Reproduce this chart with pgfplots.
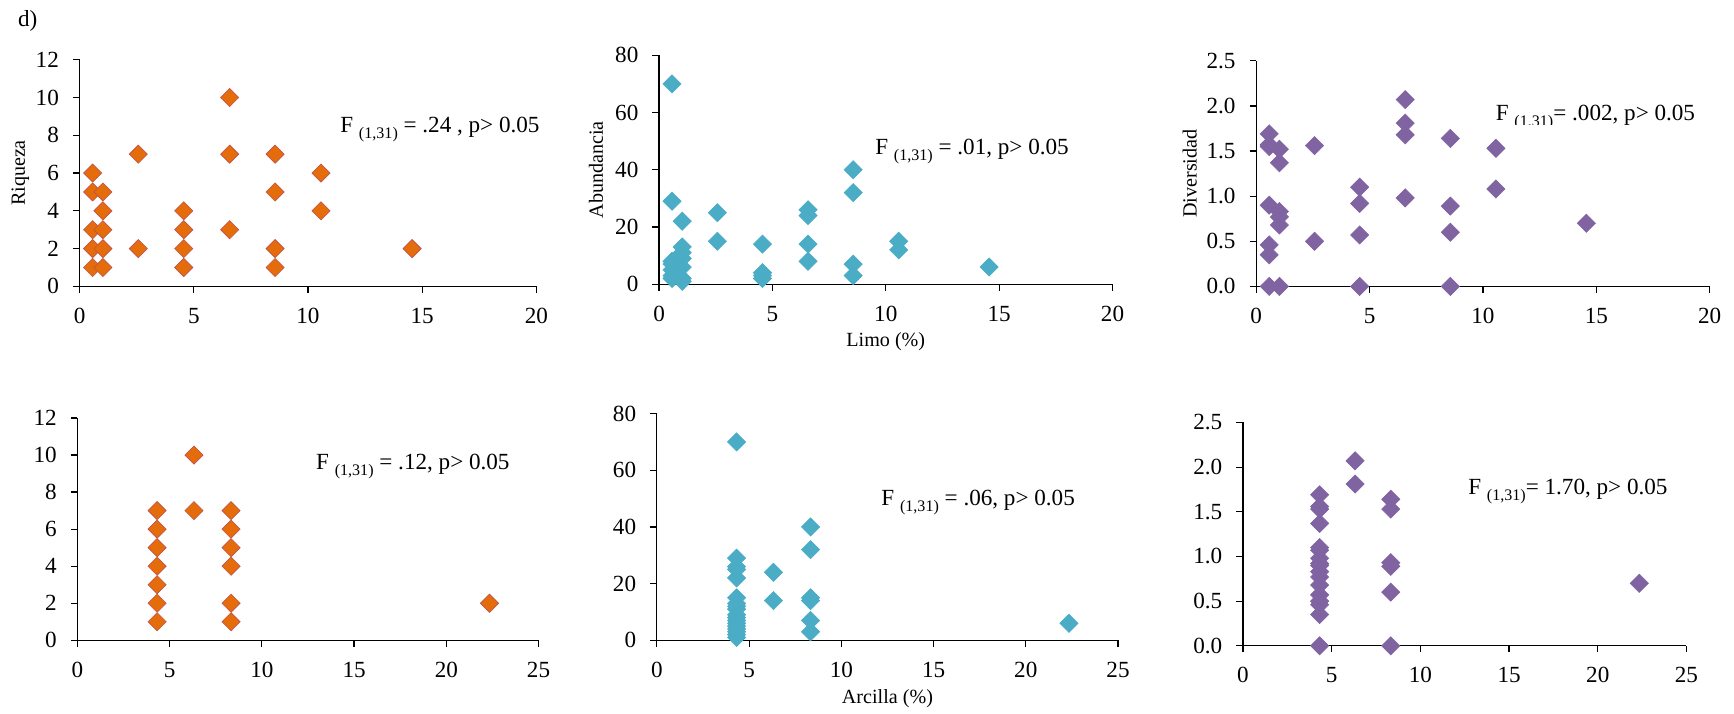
\documentclass[border=0pt]{standalone}
\usepackage{fontspec}
\setmainfont{Liberation Serif}
\usepackage{pgfplots}
\pgfplotsset{compat=1.18}

\definecolor{naranja}{HTML}{E46C0A}
\definecolor{naranjaborde}{HTML}{C0504D}
\definecolor{turquesa}{HTML}{4BACC6}
\definecolor{morado}{HTML}{8064A2}

% one layout pixel = 0.55pt
\newcommand{\px}[1]{\fpeval{(#1)*0.55}pt}

\tikzset{
  nota/.style={font=\fontsize{11.5}{13}\selectfont, anchor=base west, inner sep=0pt},
}
\pgfplotsset{
  panel/.style={
    scale only axis, anchor=south west,
    axis x line=bottom, axis y line=left,
    axis line style={-, black, line width=0.6pt},
    every tick/.style={black, line width=0.6pt},
    tick align=outside, major tick length=3.3pt,
    minor tick num=0,
    every tick label/.append style={font=\fontsize{11.5}{13}\selectfont, black},
    xticklabel style={yshift=-4pt},
    yticklabel style={xshift=-3.5pt},
    /pgf/number format/assume math mode=true,
    label style={font=\fontsize{12}{14}\selectfont},
    clip=false, xmin=0, ymin=0,
    every axis y label/.style={at={(axis description cs:#1,0.5)}, rotate=90, anchor=center},
  },
  panel/.default=-0.13,
  marcas/.style n args={2}{only marks, mark=square*, mark size=3.2pt,
    mark options={rotate=45, fill=#1, draw=#2, line width=0.3pt}},
}
\newcommand{\Fsub}{\raisebox{-0.55ex}{\fontsize{8}{9}\selectfont (1,31)}}

\begin{document}
\begin{tikzpicture}
\useasboundingbox (0,0) rectangle (862.4pt,354.75pt);

\node[nota] at (8.8pt,341.5pt) {d)};

% ---------- Limo (%) ----------
\begin{axis}[panel=-0.130, at={(\px{72},\px{645-259})},
  width=\px{413}, height=\px{205},
  xmax=20, ymax=12, xtick={0,5,...,20}, ytick={0,2,...,12},
  ylabel={Riqueza}]
\addplot[marcas={naranja}{naranjaborde}] table {
x y
0.57 6
0.57 5
0.57 3
0.57 2
0.57 1
1.02 5
1.02 4
1.02 3
1.02 2
1.02 1
2.57 7
2.57 2
4.56 4
4.56 3
4.56 2
4.56 1
6.57 10
6.57 7
6.57 3
8.56 7
8.56 5
8.56 2
8.56 1
10.57 6
10.57 4
14.56 2
};
\node[nota] at (axis cs:11.4,8.15) {F \Fsub\ = .24 , p> 0.05};
\end{axis}

\begin{axis}[panel=-0.139, at={(\px{596},\px{645-257})},
  width=\px{410}, height=\px{207},
  xmax=20, ymax=80, xtick={0,5,...,20}, ytick={0,20,...,80},
  ylabel={Abundancia}, xlabel={Limo (\%)},
  every axis x label/.style={at={(axis description cs:0.5,-0.25)}, anchor=center}]
\addplot[marcas={turquesa}{turquesa}] table {
x y
0.57 70
0.57 29
0.57 8
0.57 7
0.57 5
0.57 3
0.57 2
1.02 22
1.02 13
1.02 11
1.02 9
1.02 6
1.02 2
1.02 1
2.57 25
2.57 15
4.56 14
4.56 4
4.56 3
4.56 2
6.57 26
6.57 24
6.57 14
6.57 8
8.56 40
8.56 32
8.56 7
8.56 3
10.57 15
10.57 12
14.56 6
};
\node[nota] at (axis cs:9.52,45.3) {F \Fsub\ = .01, p> 0.05};
\end{axis}

\begin{axis}[panel=-0.147, at={(\px{1136},\px{645-259})},
  width=\px{410}, height=\px{204},
  xmax=20, ymax=2.5, xtick={0,5,...,20}, ytick={0,0.5,...,2.5},
  yticklabel style={/pgf/number format/.cd, fixed, fixed zerofill, precision=1},
  ylabel={Diversidad}]
\addplot[marcas={morado}{morado}] table {
x y
0.57 1.69
0.57 1.57
0.57 1.55
0.57 0.90
0.57 0.46
0.57 0.35
0.57 0
1.02 1.52
1.02 1.37
1.02 0.83
1.02 0.77
1.02 0.68
1.02 0
2.57 1.56
2.57 0.50
4.56 1.10
4.56 0.92
4.56 0.57
4.56 0
6.57 2.07
6.57 1.81
6.57 1.68
6.57 0.98
8.56 1.64
8.56 0.89
8.56 0.60
8.56 0
10.57 1.53
10.57 1.08
14.56 0.70
};
\begin{scope}
\clip (axis cs:10,1.789) rectangle (axis cs:21,2.3);
\node[nota] at (axis cs:10.55,1.837) {F \Fsub= .002, p> 0.05};
\end{scope}
\end{axis}

% ---------- Arcilla (%) ----------
\begin{axis}[panel=-0.130, at={(\px{70},\px{645-579})},
  width=\px{417}, height=\px{201},
  xmax=25, ymax=12, xtick={0,5,...,25}, ytick={0,2,...,12}]
\addplot[marcas={naranja}{naranjaborde}] table {
x y
4.32 7
4.32 6
4.32 5
4.32 4
4.32 3
4.32 2
4.32 1
6.32 10
6.32 7
8.33 7
8.33 6
8.33 5
8.33 4
8.33 2
8.33 1
22.34 2
};
\node[nota] at (axis cs:12.92,9.22) {F \Fsub\ = .12, p> 0.05};
\end{axis}

\begin{axis}[panel=-0.139, at={(\px{594},\px{645-579})},
  width=\px{417}, height=\px{205},
  xmax=25, ymax=80, xtick={0,5,...,25}, ytick={0,20,...,80},
  xlabel={Arcilla (\%)},
  every axis x label/.style={at={(axis description cs:0.5,-0.256)}, anchor=center}]
\addplot[marcas={turquesa}{turquesa}] table {
x y
4.32 70
4.32 29
4.32 26
4.32 25
4.32 22
4.32 15
4.32 13
4.32 12
4.32 11
4.32 9
4.32 8
4.32 7
4.32 6
4.32 5
4.32 4
4.32 3
4.32 2
4.32 1
6.32 24
6.32 14
8.33 40
8.33 32
8.33 15
8.33 14
8.33 7
8.33 3
22.34 6
};
\node[nota] at (axis cs:12.15,47.4) {F \Fsub\ = .06, p> 0.05};
\end{axis}

\begin{axis}[panel=-0.147, at={(\px{1124},\px{645-584})},
  width=\px{401}, height=\px{202},
  xmax=25, ymax=2.5, xtick={0,5,...,25}, ytick={0,0.5,...,2.5},
  yticklabel style={/pgf/number format/.cd, fixed, fixed zerofill, precision=1}]
\addplot[marcas={morado}{morado}] table {
x y
4.32 1.69
4.32 1.56
4.32 1.53
4.32 1.37
4.32 1.10
4.32 1.07
4.32 0.98
4.32 0.92
4.32 0.90
4.32 0.83
4.32 0.77
4.32 0.68
4.32 0.57
4.32 0.50
4.32 0.46
4.32 0.35
4.32 0
6.32 2.07
6.32 1.81
8.33 1.64
8.33 1.53
8.33 0.93
8.33 0.89
8.33 0.60
8.33 0
22.34 0.70
};
\node[nota] at (axis cs:12.68,1.694) {F \Fsub= 1.70, p> 0.05};
\end{axis}
\end{tikzpicture}
\end{document}
